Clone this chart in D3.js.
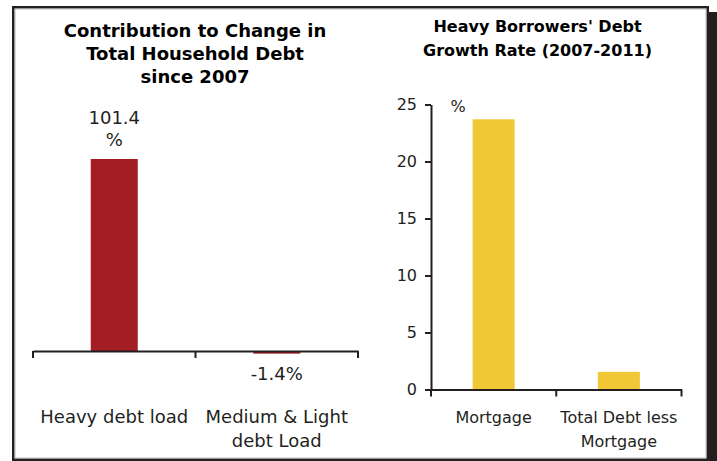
<!DOCTYPE html>
<html><head><meta charset="utf-8">
<script src="https://cdn.jsdelivr.net/npm/d3@7/dist/d3.min.js"></script>
<style>body{margin:0;background:#fff}svg{display:block;font-family:"DejaVu Sans",Verdana,sans-serif}</style>
</head><body>
<script>
// Left panel data
const leftCategories = [["Heavy debt load"], ["Medium & Light", "debt Load"]];
const leftValues = [101.4, -1.4];
const leftLabels = [["101.4", "%"], ["-1.4%"]];
const leftTitle = ["Contribution to Change in", "Total Household Debt", "since 2007"];
// Right panel data
const rightCategories = [["Mortgage"], ["Total Debt less", "Mortgage"]];
const rightValues = [23.7, 1.55];
const rightTicks = [0, 5, 10, 15, 20, 25];
const rightTitle = ["Heavy Borrowers' Debt", "Growth Rate (2007-2011)"];

const W = 717, H = 461;
const svg = d3.select("body").append("svg").attr("width", W).attr("height", H);

// frame + shadow
svg.append("rect").attr("x", 708).attr("y", 12).attr("width", 9).attr("height", 449).attr("fill", "#231f20");
svg.append("rect").attr("x", 13.25).attr("y", 7.25).attr("width", 694.5).attr("height", 452.5)
  .attr("fill", "#fff").attr("stroke", "#231f20").attr("stroke-width", 2.5);
svg.append("rect").attr("x", 15).attr("y", 9).attr("width", 691).attr("height", 449)
  .attr("fill", "none").attr("stroke", "#aaa").attr("stroke-width", 0.8);

// ---------- Left panel ----------
{
  const x = d3.scaleBand().domain(leftCategories.map((d, i) => i)).range([33, 358]).paddingInner(0).paddingOuter(0);
  const y = d3.scaleLinear().domain([0, 101.4]).range([351, 159]);
  const barW = 47;
  const g = svg.append("g");
  g.selectAll("rect.bar").data(leftValues).join("rect").attr("class", "bar")
    .attr("x", (d, i) => x(i) + x.bandwidth() / 2 - barW / 2)
    .attr("width", barW)
    .attr("y", d => Math.min(y(d), y(0)))
    .attr("height", d => Math.abs(y(d) - y(0)))
    .attr("fill", "#a51d24");
  // axis
  const ax = g.append("g").attr("transform", `translate(0,${y(0)})`)
    .call(d3.axisBottom(x).tickSize(0).tickFormat(""));
  ax.select(".domain").attr("stroke", "#231f20").attr("stroke-width", 2);
  const edges = d3.range(leftCategories.length + 1).map(i => 33 + i * x.step());
  g.selectAll("line.tk").data(edges).join("line").attr("class", "tk")
    .attr("x1", d => d).attr("x2", d => d).attr("y1", y(0)).attr("y2", y(0) + 7)
    .attr("stroke", "#231f20").attr("stroke-width", 2);
  // value labels
  leftLabels.forEach((lines, i) => {
    const cx = x(i) + x.bandwidth() / 2;
    const v = leftValues[i];
    const t = g.append("text").attr("text-anchor", "middle").attr("font-size", 18).attr("fill", "#231f20");
    lines.forEach((s, k) => {
      const yy = v >= 0 ? y(v) - 35 + k * 22 : y(0) + 29;
      t.append("tspan").attr("x", cx).attr("y", yy).text(s);
    });
  });
  // category labels
  leftCategories.forEach((lines, i) => {
    const cx = x(i) + x.bandwidth() / 2;
    const t = g.append("text").attr("text-anchor", "middle").attr("font-size", 18).attr("fill", "#231f20");
    lines.forEach((s, k) => t.append("tspan").attr("x", cx).attr("y", 423 + k * 24).text(s));
  });
  // title
  const tt = g.append("text").attr("text-anchor", "middle").attr("font-size", 18).attr("font-weight", "bold").attr("fill", "#000");
  leftTitle.forEach((s, k) => tt.append("tspan").attr("x", 195).attr("y", 36.5 + k * 23).text(s));
}

// ---------- Right panel ----------
{
  const x = d3.scaleBand().domain(rightCategories.map((d, i) => i)).range([431, 681.5]).paddingInner(0).paddingOuter(0);
  const y = d3.scaleLinear().domain([0, 25]).range([389.5, 104.5]);
  const barW = 42;
  const g = svg.append("g");
  g.selectAll("rect.bar").data(rightValues).join("rect").attr("class", "bar")
    .attr("x", (d, i) => x(i) + x.bandwidth() / 2 - barW / 2)
    .attr("width", barW)
    .attr("y", d => y(d))
    .attr("height", d => y(0) - y(d))
    .attr("fill", "#f0c835");
  const ya = g.append("g").attr("transform", "translate(431,0)")
    .call(d3.axisLeft(y).tickValues(rightTicks).tickSize(6).tickPadding(8).tickSizeOuter(0));
  ya.select(".domain").attr("stroke", "#231f20").attr("stroke-width", 2);
  ya.selectAll(".tick line").attr("stroke", "#231f20").attr("stroke-width", 2);
  ya.selectAll(".tick text").attr("font-size", 16).attr("fill", "#231f20").attr("font-family", '"DejaVu Sans",Verdana,sans-serif');
  const xa = g.append("g").attr("transform", `translate(0,${y(0)})`)
    .call(d3.axisBottom(x).tickSize(0).tickFormat(""));
  xa.select(".domain").attr("stroke", "#231f20").attr("stroke-width", 2);
  const edges = d3.range(rightCategories.length + 1).map(i => 431 + i * x.step());
  g.selectAll("line.tk").data(edges).join("line").attr("class", "tk")
    .attr("x1", d => d).attr("x2", d => d).attr("y1", y(0)).attr("y2", y(0) + 7)
    .attr("stroke", "#231f20").attr("stroke-width", 2);
  g.append("text").attr("x", 458).attr("y", 112).attr("text-anchor", "middle").attr("font-size", 16).attr("fill", "#231f20").text("%");
  rightCategories.forEach((lines, i) => {
    const cx = x(i) + x.bandwidth() / 2;
    const t = g.append("text").attr("text-anchor", "middle").attr("font-size", 16).attr("fill", "#231f20");
    lines.forEach((s, k) => t.append("tspan").attr("x", cx).attr("y", 422.5 + k * 24).text(s));
  });
  const tt = g.append("text").attr("text-anchor", "middle").attr("font-size", 16).attr("font-weight", "bold").attr("fill", "#000");
  rightTitle.forEach((s, k) => tt.append("tspan").attr("x", 537.5).attr("y", 32 + k * 24).text(s));
}
</script>
</body></html>
